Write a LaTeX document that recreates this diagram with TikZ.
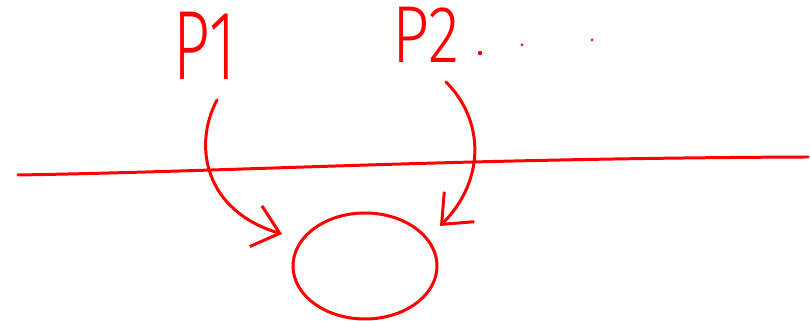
\documentclass[tikz,border=0pt]{standalone}
\usepackage{fontspec}
\newfontfamily\handfont{Fira Sans Light}
\usetikzlibrary{shapes.geometric, arrows.meta}
\tikzset{
	ink/.style={red, line width=1.7pt, line cap=round, line join=round}
}
\tikzset{
	inkarrow/.style={ink, -{Straight Barb[length=5mm, width=8.5mm]}}
}
\tikzset{
	proc/.style={red, inner sep=0pt, anchor=south, transform shape, font=\handfont\fontsize{#1}{#1}\selectfont}
}

\begin{document}
\begin{tikzpicture}[>=stealth]
      \useasboundingbox (0,0) rectangle (16.2,6.42);

      \node[proc=56, xscale=0.65] (p1) at (4.1,4.82) {P1};
      \node[proc=46, xscale=0.8] (p2) at (8.52,5.16) {P2};
      \fill[red] (9.6,5.36) circle (0.045) (10.44,5.52) circle (0.03) (11.84,5.62) circle (0.03);

      % the dividing stroke
      \coordinate (lineL) at (0.36,2.92);
      \coordinate (lineR) at (16.16,3.28);
      \draw[ink] (lineL) .. controls (5,3.0) and (9,3.25) .. (lineR);

      \node[ellipse, ink, draw, minimum width=2.88cm, minimum height=2.12cm] (res) at (7.3,1.1) {};
      \coordinate (in1) at (5.64,1.74);
      \coordinate (in2) at (8.8,1.9);

      \draw[inkarrow] ([xshift=0.24cm,yshift=-0.4cm]p1.south) .. controls (3.85,3.5) and (4.1,2.2) .. (in1);
      \draw[inkarrow] ([xshift=0.4cm,yshift=-0.38cm]p2.south) .. controls (9.7,4.0) and (9.7,2.8) .. (in2);
    \end{tikzpicture}
\end{document}
